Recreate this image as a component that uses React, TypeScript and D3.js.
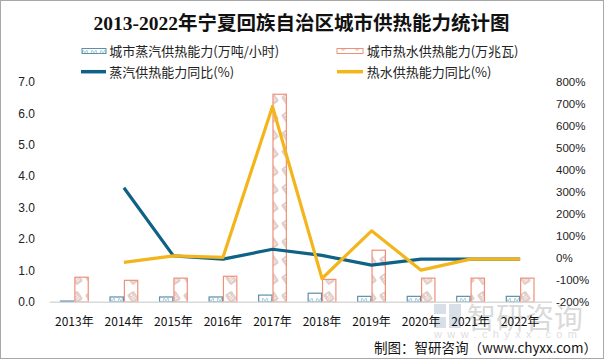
import React from "react";
import * as d3 from "d3";

const years = ["2013年", "2014年", "2015年", "2016年", "2017年", "2018年", "2019年", "2020年", "2021年", "2022年"];
const steamCap = [0.03, 0.16, 0.16, 0.16, 0.22, 0.28, 0.18, 0.18, 0.18, 0.18];
const waterCap = [0.79, 0.69, 0.76, 0.82, 6.62, 0.72, 1.65, 0.76, 0.76, 0.76];
const steamYoY: (number | null)[] = [null, 320, 10, -5, 40, 12, -32, -5, -5, -5];
const waterYoY: (number | null)[] = [null, -20, 10, 3, 690, -93, 124, -55, -5, -5];
const leftTicks = [0, 1, 2, 3, 4, 5, 6, 7];
const rightTicks = [-200, -100, 0, 100, 200, 300, 400, 500, 600, 700, 800];

const W = 604;
const H = 359;
const STEAM_BORDER = "#5E8FA6";
const WATER_BORDER = "#F09079";
const BLUE = "#0F6285";
const YELLOW = "#F3B51B";
const CJK = "'Noto Sans CJK SC', 'Liberation Sans', sans-serif";
const NUM = "'Liberation Sans', 'Noto Sans CJK SC', sans-serif";

export default function App() {
  const x = d3.scaleBand<string>().domain(years).range([49.6, 544.9]).paddingInner(0.42).paddingOuter(0.21);
  const yL = d3.scaleLinear().domain([0, 7]).range([302, 82.3]);
  const yR = d3.scaleLinear().domain([-200, 800]).range([302, 82.3]);
  const bw = x.bandwidth() / 2;
  const cx = (i: number) => (x(years[i]) as number) + x.bandwidth() / 2;

  const line = d3
    .line<number | null>()
    .defined((d) => d !== null)
    .x((_, i) => cx(i))
    .y((d) => yR(d as number));

  return (
    <div style={{ position: "fixed", left: 0, top: 0 }}>
      <svg width={W} height={H} style={{ display: "block", background: "#fff" }}>
        <defs>
          <pattern id="steamPat" width="9" height="8" patternUnits="userSpaceOnUse">
            <rect width="9" height="8" fill="#fff" />
            <path d="M1 6 L2 2 L4 5 L6 2 L7 6" stroke="#A9CFE0" strokeWidth="1" fill="none" />
          </pattern>
          <pattern id="waterPat" width="14" height="18" patternUnits="userSpaceOnUse">
            <rect width="14" height="18" fill="#fff" />
            <g transform="translate(7,9) rotate(-35)">
              <rect x="-4" y="-5" width="8" height="10" rx="1.5" fill="#E3CFCA" />
              <circle cx="0" cy="-2.5" r="1" fill="#fff" />
              <path d="M-2 0 L2 0 M-2 2 L2 2" stroke="#fff" strokeWidth="0.8" />
            </g>
          </pattern>
        </defs>

        <rect x={0.5} y={0.5} width={W - 1} height={H - 1} fill="none" stroke="#A8A8A8" />

        {/* watermark */}
        <g opacity={0.55}>
          <rect x={434} y={304} width={12} height={10} fill="#B9C6D6" />
          <rect x={449} y={304} width={12} height={24} fill="#B9C6D6" />
          <rect x={434} y={317} width={12} height={11} fill="#B9C6D6" />
          <text x={467} y={316} fontFamily={CJK} fontSize={29} fill="#BDBDBD" dominantBaseline="central">
            智研咨询
          </text>
          <text x={434} y={334} fontFamily={NUM} fontSize={11} fill="#C4C4C4" dominantBaseline="central" letterSpacing={5.4}>
            www.chyxx.com
          </text>
        </g>

        {/* title */}
        <text x={301.5} y={23.5} textAnchor="middle" dominantBaseline="central" fontFamily="'Liberation Serif', 'Noto Sans CJK SC', serif" fontWeight="bold" fontSize={19.5} fill="#111">
          2013-2022年宁夏回族自治区城市供热能力统计图
        </text>

        {/* legend */}
        <g fontFamily={CJK} fontSize={13} fill="#222">
          <rect x={82} y={48.5} width={24} height={5} fill="url(#steamPat)" stroke={STEAM_BORDER} strokeWidth={1} />
          <text x={109.3} y={50.7} dominantBaseline="central">城市蒸汽供热能力(万吨/小时)</text>
          <rect x={337} y={48.5} width={26} height={5} fill="url(#waterPat)" stroke={WATER_BORDER} strokeWidth={1} />
          <text x={366.7} y={50.7} dominantBaseline="central">城市热水供热能力(万兆瓦)</text>
          <line x1={81} x2={106} y1={71.7} y2={71.7} stroke={BLUE} strokeWidth={3.5} />
          <text x={109.3} y={71.7} dominantBaseline="central">蒸汽供热能力同比(%)</text>
          <line x1={337} x2={363} y1={71.7} y2={71.7} stroke={YELLOW} strokeWidth={3.5} />
          <text x={366.7} y={71.7} dominantBaseline="central">热水供热能力同比(%)</text>
        </g>

        {/* left axis labels */}
        <g fontFamily={NUM} fontSize={12} fill="#222">
          {leftTicks.map((t) => (
            <text key={t} x={35} y={yL(t)} textAnchor="end" dominantBaseline="central">
              {t.toFixed(1)}
            </text>
          ))}
        </g>
        {/* right axis labels */}
        <g fontFamily={NUM} fontSize={11.5} fill="#222">
          {rightTicks.map((t) => (
            <text key={t} x={556} y={yR(t)} textAnchor="start" dominantBaseline="central">
              {t}%
            </text>
          ))}
        </g>

        {/* bars */}
        {years.map((yr, i) => {
          const x0 = x(yr) as number;
          return (
            <g key={yr}>
              <rect x={x0 + 0.5} y={yL(steamCap[i])} width={bw - 1} height={yL(0) - yL(steamCap[i])} fill="url(#steamPat)" stroke={STEAM_BORDER} strokeWidth={1.2} />
              <rect x={x0 + bw + 0.5} y={yL(waterCap[i])} width={bw - 1} height={yL(0) - yL(waterCap[i])} fill="url(#waterPat)" stroke={WATER_BORDER} strokeWidth={1.2} />
            </g>
          );
        })}

        {/* x axis */}
        <line x1={49.6} x2={552} y1={302.3} y2={302.3} stroke="#D9D9D9" strokeWidth={1.5} />
        <g fontFamily={CJK} fontSize={12} fill="#111">
          {years.map((yr, i) => (
            <text key={yr} x={cx(i)} y={320} textAnchor="middle" dominantBaseline="central">
              {yr}
            </text>
          ))}
        </g>

        {/* lines */}
        <path d={line(steamYoY) || ""} fill="none" stroke={BLUE} strokeWidth={3.2} strokeLinejoin="round" />
        <path d={line(waterYoY) || ""} fill="none" stroke={YELLOW} strokeWidth={3.2} strokeLinejoin="round" />

        {/* source */}
        <text x={597} y={346.7} textAnchor="end" dominantBaseline="central" fontFamily={CJK} fontSize={13.5} fill="#111">
          制图：智研咨询（www.chyxx.com）
        </text>
      </svg>
    </div>
  );
}
